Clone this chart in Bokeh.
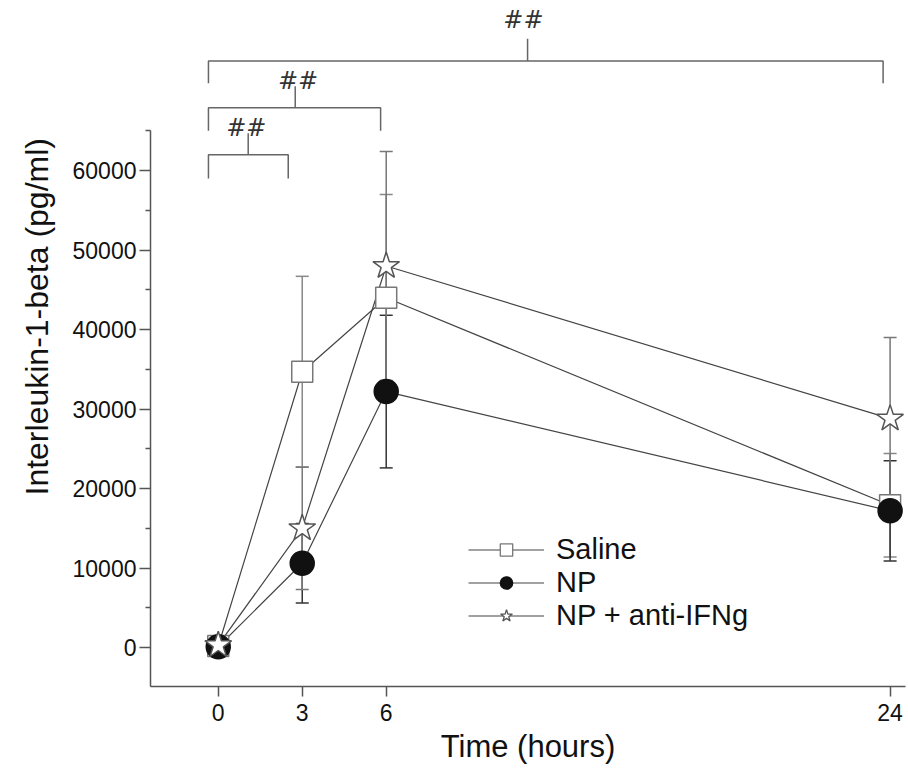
from bokeh.plotting import figure
from bokeh.models import Range1d, FixedTicker, Legend, LegendItem, ColumnDataSource, Title
from bokeh.core.properties import value
from bokeh.embed import file_html
from bokeh.resources import INLINE

# ---- data ----
times = [0, 3, 6, 24]
saline_mean = [200, 34700, 44000, 17900]
saline_err = [300, 12000, 13000, 6500]
np_mean = [100, 10600, 32200, 17200]
np_err = [200, 5000, 9600, 6300]
ifng_mean = [300, 15000, 48000, 28800]
ifng_err = [300, 7700, 14400, 10200]

series_names = ["Saline", "NP", "NP + anti-IFNg"]

x_ticks = [0, 3, 6, 24]
y_ticks = [0, 10000, 20000, 30000, 40000, 50000, 60000]
y_minor = [-5000, 5000, 15000, 25000, 35000, 45000, 55000, 65000]

# significance brackets (x start, x end, bar height, leg bottom, stem x, stem top, label y)
br_x0 = [-0.35, -0.35, -0.35]
br_x1 = [2.5, 5.8, 23.75]
br_y = [62000, 67900, 73800]
br_leg = [59000, 65000, 71000]
br_stem_x = [1.07, 2.75, 11.05]
br_stem_top = [64700, 70600, 76600]
br_label_x = [1.0, 2.85, 10.9]
br_label_y = [65400, 71300, 78900]
br_labels = ["##", "##", "##"]

y_title = "Interleukin-1-beta (pg/ml)"

FONT = "Liberation Sans"
AX = "#555555"

p = figure(frame_width=755, frame_height=686,
           x_range=Range1d(-2.42, 24.55), y_range=Range1d(-4900, 81400),
           output_backend="svg", toolbar_location=None,
           min_border_left=150, min_border_right=3, min_border_top=0, min_border_bottom=90)
p.outline_line_color = None
p.xgrid.visible = False
p.ygrid.visible = False
p.background_fill_color = "white"

# axes
p.xaxis.ticker = FixedTicker(ticks=x_ticks)
p.yaxis.ticker = FixedTicker(ticks=y_ticks, minor_ticks=y_minor)
p.yaxis.bounds = (-4900, 65000)
for ax in (p.xaxis[0], p.yaxis[0]):
    ax.axis_line_color = AX
    ax.axis_line_width = 1.5
    ax.major_tick_line_color = AX
    ax.major_tick_line_width = 1.5
    ax.minor_tick_line_color = AX
    ax.minor_tick_line_width = 1.5
    ax.major_tick_in = 0
    ax.minor_tick_in = 0
    ax.major_label_text_font = FONT
    ax.major_label_text_color = "#111111"
    ax.axis_label_text_font = FONT
    ax.axis_label_text_font_style = "normal"
    ax.axis_label_text_color = "#111111"
p.xaxis.major_tick_out = 10
p.xaxis.minor_tick_out = 0
p.xaxis.major_label_text_font_size = "23px"
p.xaxis.major_label_standoff = 7
p.xaxis.axis_label = "Time (hours)"
p.xaxis.axis_label_text_font_size = "31px"
p.xaxis.axis_label_standoff = 5
p.yaxis.major_tick_out = 11
p.yaxis.minor_tick_out = 5
p.yaxis.major_label_text_font_size = "23px"
p.yaxis.major_label_standoff = 3

p.add_layout(Title(text=y_title, align="left", offset=191, standoff=30,
                   text_font=FONT, text_font_size="32px", text_font_style="normal",
                   text_color="#111111"), "left")

# brackets
for i in range(len(br_y)):
    p.line([br_x0[i], br_x0[i], br_x1[i], br_x1[i]],
           [br_leg[i], br_y[i], br_y[i], br_leg[i]],
           line_color="#666666", line_width=1.5)
    p.segment(x0=[br_stem_x[i]], y0=[br_y[i]], x1=[br_stem_x[i]], y1=[br_stem_top[i]],
              line_color="#666666", line_width=1.5)
p.text(x=br_label_x, y=br_label_y, text=br_labels, text_font=value("DejaVu Sans"),
       text_font_size="24px", text_font_style="italic", text_color="#333333",
       text_align="center", text_baseline="middle")

series = [
    (saline_mean, saline_err, "square", "white", "#777777", 21, "#888888"),
    (np_mean, np_err, "circle", "#111111", "#111111", 24, "#333333"),
    (ifng_mean, ifng_err, "star", "white", "#555555", 28, "#777777"),
]

# error bars
for mean, err, *_rest in series:
    lo = [m - e for m, e in zip(mean, err)]
    hi = [m + e for m, e in zip(mean, err)]
    ecol = _rest[4]
    p.segment(x0=times, y0=lo, x1=times, y1=hi, line_color=ecol, line_width=1.5)
    p.scatter(x=times, y=lo, marker="dash", size=13, line_color=ecol, line_width=1.5)
    p.scatter(x=times, y=hi, marker="dash", size=13, line_color=ecol, line_width=1.5)

# lines
for mean, err, *_rest in series:
    p.line(times, mean, line_color="#444444", line_width=1.2)

# markers
for mean, err, marker, fill, lcol, size, ecol in series:
    p.scatter(x=times, y=mean, marker=marker, size=size, fill_color=fill,
              line_color=lcol, line_width=1.5)

# legend-only renderers (a single NaN point, nothing drawn in the plot)
items = []
for name, (mean, err, marker, fill, lcol, size, ecol) in zip(series_names, series):
    src = ColumnDataSource(data=dict(x=[float("nan")], y=[float("nan")]))
    lr = p.line("x", "y", source=src, line_color="#444444", line_width=1.2)
    mr = p.scatter("x", "y", source=src, marker=marker, size=size, fill_color=fill,
                   line_color=lcol, line_width=1.3)
    items.append(LegendItem(label=name, renderers=[lr, mr], index=0))

legend = Legend(items=items, location=(318, 54), orientation="vertical",
                glyph_width=76, glyph_height=31, label_height=28, spacing=0,
                padding=0, margin=0, label_standoff=12,
                label_text_font=FONT, label_text_font_size="29px",
                label_text_color="#111111",
                border_line_color=None, background_fill_alpha=0)
p.add_layout(legend, "center")

open("out.html", "w").write(file_html(p, INLINE))
